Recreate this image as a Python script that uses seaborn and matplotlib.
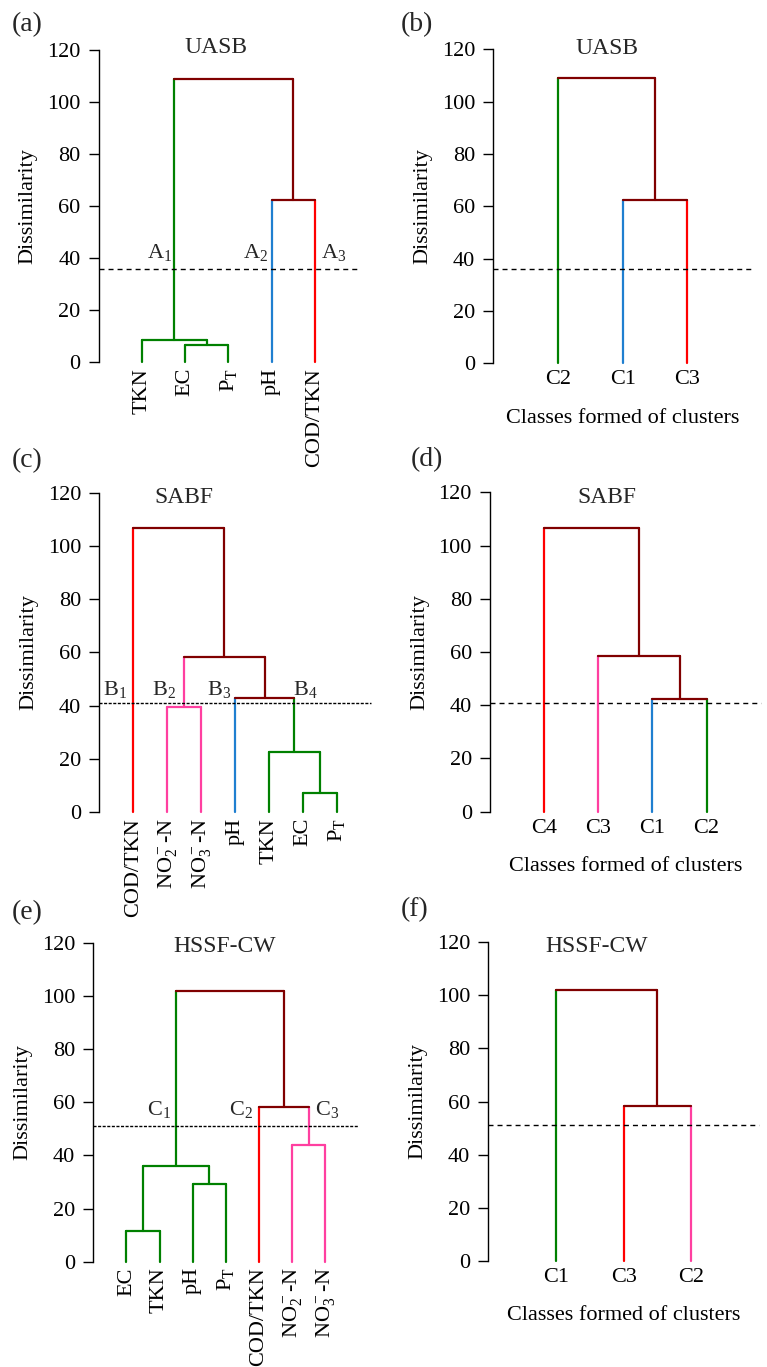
import matplotlib
matplotlib.use('Agg')
import matplotlib.pyplot as plt
import seaborn as sns

# Dendrograms of wastewater parameters (UASB, SABF, HSSF-CW)
sns.set_theme(style='ticks')
plt.rcParams['font.family'] = ['Liberation Serif', 'DejaVu Serif']
plt.rcParams['mathtext.fontset'] = 'custom'
plt.rcParams['mathtext.rm'] = 'Liberation Serif'
plt.rcParams['mathtext.it'] = 'Liberation Serif:italic'
plt.rcParams['mathtext.bf'] = 'Liberation Serif:bold'

GREEN = '#008000'
BLUE = '#1f7fd0'
RED = '#ff0000'
PINK = '#ff3fa0'
MAROON = '#800000'

PT = r'P$_\mathrm{T}$'
NO2 = r'NO$_2^-$-N'
NO3 = r'NO$_3^-$-N'

# merges: (left node, right node, dissimilarity); new nodes get ids after the leaves
a_leaves = ['TKN', 'EC', PT, 'pH', 'COD/TKN']
a_leaf_colors = [GREEN, GREEN, GREEN, BLUE, RED]
a_merges = [(1, 2, 6.7), (0, 5, 8.6), (3, 4, 62.4), (6, 7, 109.0)]
a_merge_colors = [GREEN, GREEN, MAROON, MAROON]
a_cut = 35.8

b_leaves = ['C2', 'C1', 'C3']
b_leaf_colors = [GREEN, BLUE, RED]
b_merges = [(1, 2, 62.4), (0, 3, 109.0)]
b_merge_colors = [MAROON, MAROON]
b_cut = 35.9

c_leaves = ['COD/TKN', NO2, NO3, 'pH', 'TKN', 'EC', PT]
c_leaf_colors = [RED, PINK, PINK, BLUE, GREEN, GREEN, GREEN]
c_merges = [(5, 6, 7.1), (4, 7, 22.5), (1, 2, 39.6), (3, 8, 42.8),
            (9, 10, 58.4), (0, 11, 106.6)]
c_merge_colors = [GREEN, GREEN, PINK, MAROON, MAROON, MAROON]
c_cut = 41.1

d_leaves = ['C4', 'C3', 'C1', 'C2']
d_leaf_colors = [RED, PINK, BLUE, GREEN]
d_merges = [(2, 3, 42.4), (1, 4, 58.5), (0, 5, 106.7)]
d_merge_colors = [MAROON, MAROON, MAROON]
d_cut = 41.0

e_leaves = ['EC', 'TKN', 'pH', PT, 'COD/TKN', NO2, NO3]
e_leaf_colors = [GREEN, GREEN, GREEN, GREEN, RED, PINK, PINK]
e_merges = [(0, 1, 11.7), (2, 3, 29.2), (7, 8, 36.1), (5, 6, 43.9),
            (4, 10, 58.3), (9, 11, 102.0)]
e_merge_colors = [GREEN, GREEN, GREEN, PINK, MAROON, MAROON]
e_cut = 51.0

f_leaves = ['C1', 'C3', 'C2']
f_leaf_colors = [GREEN, RED, PINK]
f_merges = [(1, 2, 58.2), (0, 3, 102.0)]
f_merge_colors = [MAROON, MAROON]
f_cut = 51.0

# cut-level cluster names (text, x, y)
a_marks = [(r'A$_1$', 1.11, 40.0), (r'A$_2$', 3.34, 40.0), (r'A$_3$', 5.14, 40.0)]
c_marks = [(r'B$_1$', 0.12, 44.0), (r'B$_2$', 1.54, 44.0),
           (r'B$_3$', 3.17, 44.0), (r'B$_4$', 5.72, 44.0)]
e_marks = [(r'C$_1$', 1.63, 55.2), (r'C$_2$', 4.10, 55.2), (r'C$_3$', 6.68, 55.2)]

LW = 1.6
LONG_DASH = (0, (3.6, 2.9))
SHORT_DASH = (0, (2.2, 1.1))


def draw_tree(ax, leaves, leaf_colors, merges, merge_colors):
    xs = [i + 1 for i in range(len(leaves))]
    hs = [0.0] * len(leaves)
    cols = list(leaf_colors)
    for (l, r, h), c in zip(merges, merge_colors):
        for child in (l, r):
            ax.plot([xs[child], xs[child]], [hs[child], h], color=cols[child],
                    lw=LW, clip_on=False)
        ax.plot([xs[l], xs[r]], [h, h], color=c, lw=LW, clip_on=False)
        xs.append((xs[l] + xs[r]) / 2)
        hs.append(h)
        cols.append(c)


panels = [
    ('(a)', 'UASB', a_leaves, a_leaf_colors, a_merges, a_merge_colors, a_cut, a_marks,
     LONG_DASH, [0.1287, 0.7350, 0.3380, 0.2284], (0.452, 1.007), (0.0153, 0.9817)),
    ('(b)', 'UASB', b_leaves, b_leaf_colors, b_merges, b_merge_colors, b_cut, None,
     LONG_DASH, [0.6432, 0.7342, 0.3372, 0.2297], (0.438, 1.003), (0.5224, 0.9817)),
    ('(c)', 'SABF', c_leaves, c_leaf_colors, c_merges, c_merge_colors, c_cut, c_marks,
     SHORT_DASH, [0.1295, 0.4058, 0.3538, 0.2338], (0.310, 0.986), (0.0153, 0.6628)),
    ('(d)', 'SABF', d_leaves, d_leaf_colors, d_merges, d_merge_colors, d_cut, None,
     LONG_DASH, [0.6389, 0.4062, 0.3529, 0.2337], (0.430, 0.984), (0.5355, 0.6635)),
    ('(e)', 'HSSF-CW', e_leaves, e_leaf_colors, e_merges, e_merge_colors, e_cut, e_marks,
     SHORT_DASH, [0.1216, 0.0770, 0.3455, 0.2334], (0.497, 0.988), (0.0153, 0.3321)),
    ('(f)', 'HSSF-CW', f_leaves, f_leaf_colors, f_merges, f_merge_colors, f_cut, None,
     LONG_DASH, [0.6366, 0.0775, 0.3529, 0.2334], (0.402, 0.985), (0.5224, 0.3343)),
]

fig = plt.figure(figsize=(7.67, 13.67), dpi=100)

for tag, title, leaves, lcols, merges, mcols, cut, marks, dash, rect, tpos, lpos in panels:
    ax = fig.add_axes(rect)
    draw_tree(ax, leaves, lcols, merges, mcols)
    ax.axhline(cut, color='black', lw=1.0, ls=dash, clip_on=False)
    ax.set_xlim(0, len(leaves) + 1)
    ax.set_ylim(0, 120)
    ax.set_yticks(range(0, 121, 20))
    ax.tick_params(axis='y', labelsize=16, length=7, width=1, color='black',
                   pad=6, labelcolor='black')
    ax.set_ylabel('Dissimilarity', fontsize=16, color='black', labelpad=7)
    sns.despine(ax=ax, bottom=True)
    ax.spines['left'].set_color('black')
    ax.spines['left'].set_linewidth(1.0)
    ax.set_facecolor('none')
    pos = list(range(1, len(leaves) + 1))
    if marks is not None:
        ax.set_xticks(pos, leaves, rotation=90)
        ax.tick_params(axis='x', labelsize=16, length=0, pad=4, labelcolor='black')
        for txt, mx, my in marks:
            ax.text(mx, my, txt, fontsize=16, ha='left', va='baseline')
    else:
        ax.set_xticks(pos, leaves)
        ax.tick_params(axis='x', labelsize=16, length=0, pad=5, labelcolor='black')
        ax.set_xlabel('Classes formed of clusters', fontsize=16, color='black',
                      labelpad=14)
    ax.text(tpos[0], tpos[1], title, transform=ax.transAxes, ha='center',
            va='center', fontsize=17)
    fig.text(lpos[0], lpos[1], tag, ha='left', va='center', fontsize=20)

fig.savefig('out.png', dpi=100)
